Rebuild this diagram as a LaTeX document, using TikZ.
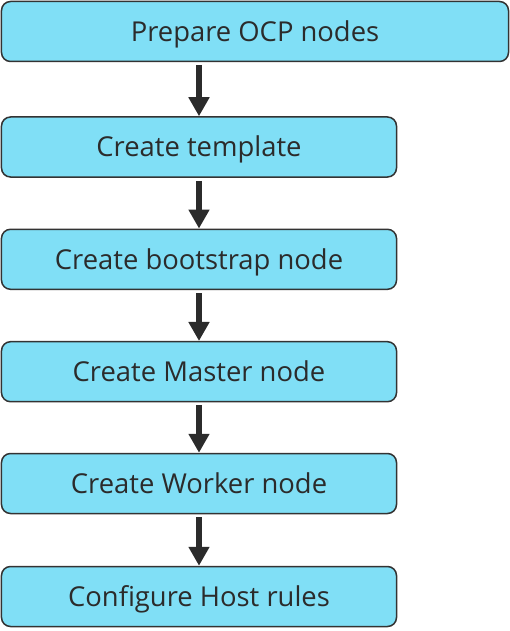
\documentclass[tikz,border=0pt]{standalone}
\usepackage{fontspec}
\setmainfont{Open Sans}
\usetikzlibrary{arrows.meta}
\definecolor{boxfill}{HTML}{80DFF6}
\definecolor{boxline}{HTML}{333333}
\definecolor{txt}{HTML}{2B2B2B}
\definecolor{arr}{HTML}{2B2B2B}
\tikzset{
  stepbox/.style={draw=boxline, line width=1.5bp, fill=boxfill, rounded corners=9bp,
    minimum height=60bp, text=txt, font=\fontsize{27.5}{32}\selectfont, inner sep=0pt,
    text height=19.5bp, text depth=0pt, anchor=center},
  flowarrow/.style={draw=arr, line width=6.5bp, -{Triangle[width=20bp,length=19bp]}, shorten <=3bp}
}
\begin{document}
\begin{tikzpicture}[x=1bp,y=-1bp]
\useasboundingbox (0,0) rectangle (510,631);
\node[stepbox, minimum width=507bp] (n1) at (255,31.5) {Prepare OCP nodes};
\node[stepbox, minimum width=395bp] (n2) at (199,147) {Create template};
\node[stepbox, minimum width=395bp] (n3) at (199,259.3) {Create bootstrap node};
\node[stepbox, minimum width=395bp] (n4) at (199,371.7) {Create Master node};
\node[stepbox, minimum width=395bp] (n5) at (199,483.5) {Create Worker node};
\node[stepbox, minimum width=395bp] (n6) at (199,596.5) {Configure Host rules};
\draw[flowarrow] (n1.south -| n2.north) -- (n2.north);
\draw[flowarrow] (n2.south) -- (n3.north);
\draw[flowarrow] (n3.south) -- (n4.north);
\draw[flowarrow] (n4.south) -- (n5.north);
\draw[flowarrow] (n5.south) -- (n6.north);
\end{tikzpicture}
\end{document}
